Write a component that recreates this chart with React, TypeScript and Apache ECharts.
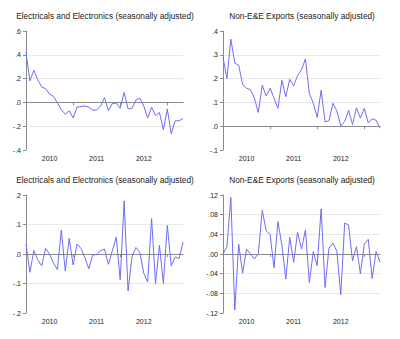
import React, { useEffect, useRef } from "react";
import * as echarts from "echarts";

const months = [
  "2010M01", "2010M02", "2010M03", "2010M04", "2010M05", "2010M06", "2010M07", "2010M08", "2010M09", "2010M10", "2010M11", "2010M12",
  "2011M01", "2011M02", "2011M03", "2011M04", "2011M05", "2011M06", "2011M07", "2011M08", "2011M09", "2011M10", "2011M11", "2011M12",
  "2012M01", "2012M02", "2012M03", "2012M04", "2012M05", "2012M06", "2012M07", "2012M08", "2012M09", "2012M10", "2012M11", "2012M12",
  "2013M01", "2013M02", "2013M03", "2013M04", "2013M05",
];

const eeLevel = [
  0.42, 0.18, 0.27, 0.19, 0.13, 0.115, 0.07, 0.05, -0.005, -0.06, -0.1, -0.07,
  -0.13, -0.04, -0.035, -0.03, -0.04, -0.065, -0.065, -0.03, 0.04, -0.07, -0.01, -0.005,
  -0.05, 0.085, -0.055, -0.05, 0.02, 0.035, -0.03, -0.13, -0.04, -0.11, -0.085, -0.23,
  -0.055, -0.265, -0.155, -0.155, -0.135,
];

const nonEeLevel = [
  0.29, 0.2, 0.366, 0.265, 0.256, 0.175, 0.16, 0.153, 0.118, 0.058, 0.172, 0.127,
  0.16, 0.118, 0.075, 0.193, 0.124, 0.197, 0.17, 0.213, 0.237, 0.283, 0.137, 0.097,
  0.037, 0.151, 0.018, 0.023, 0.096, 0.065, 0.001, 0.02, 0.066, 0.007, 0.077, 0.034,
  0.075, 0.014, 0.031, 0.025, -0.008,
];

const eeChange = [
  0.034, -0.062, 0.012, -0.02, -0.04, 0.019, -0.001, -0.03, -0.053, 0.081, -0.058, 0.053,
  -0.037, 0.034, 0.019, -0.012, -0.05, -0.003, -0.002, 0.011, 0.017, -0.035, 0.011, 0.057,
  -0.087, 0.18, -0.125, -0.01, 0.022, 0.005, -0.065, -0.095, 0.12, -0.1, 0.03, -0.1,
  0.097, -0.04, -0.01, -0.015, 0.04,
];

const nonEeChange = [
  0.0, 0.015, 0.115, -0.114, 0.02, -0.039, 0.01, 0.0, -0.01, 0.001, 0.089, 0.047,
  0.04, -0.028, 0.066, 0.018, -0.051, 0.034, -0.017, 0.044, 0.01, 0.049, -0.058, 0.005,
  -0.024, 0.092, -0.068, 0.012, 0.022, 0.006, -0.083, 0.063, 0.059, -0.014, 0.015, -0.04,
  0.02, 0.03, -0.05, 0.005, -0.016,
];

const titles = [
  "Electricals and Electronics (seasonally adjusted)",
  "Non-E&E Exports (seasonally adjusted)",
  "Electricals and Electronics (seasonally adjusted)",
  "Non-E&E Exports (seasonally adjusted)",
];

const panels = [
  { data: eeLevel, min: -0.4, max: 0.6, interval: 0.2, decimals: 1 },
  { data: nonEeLevel, min: -0.1, max: 0.4, interval: 0.1, decimals: 1 },
  { data: eeChange, min: -0.2, max: 0.2, interval: 0.1, decimals: 1 },
  { data: nonEeChange, min: -0.12, max: 0.12, interval: 0.04, decimals: 2 },
];

const grids = [
  { left: 26, top: 31, width: 157, height: 119 },
  { left: 223, top: 31, width: 157, height: 119 },
  { left: 26, top: 195, width: 157, height: 118 },
  { left: 223, top: 195, width: 157, height: 118 },
];

const titlePos = [
  { x: 105, y: 16 },
  { x: 302, y: 16 },
  { x: 105, y: 180 },
  { x: 302, y: 180 },
];

const FONT = '"Liberation Sans", Arial, sans-serif';
const AXIS = "#8a8a8a";
const GRID = "#e8e8e8";
const TRANSP = "rgba(0,0,0,0)";
const LINE = "#6e6ef5";

function fmt(v: number, d: number) {
  const s = Math.abs(v).toFixed(d).replace(/^0/, "");
  return (v < -1e-9 ? "-" : "") + s;
}

export default function App() {
  const ref = useRef<HTMLDivElement>(null);
  useEffect(() => {
    if (!ref.current) return;
    const chart = echarts.init(ref.current, undefined, { renderer: "svg" });
    const xAxis = panels.map((_, i) => ({
      type: "category",
      gridIndex: i,
      data: months,
      boundaryGap: false,
      axisLine: { show: true, lineStyle: { color: AXIS, width: 1 } },
      axisTick: {
        show: true,
        length: 3,
        interval: (idx: number) => idx % 12 === 0,
        lineStyle: { color: AXIS },
      },
      axisLabel: {
        show: true,
        interval: (idx: number) => idx % 12 === 6 && idx < 36,
        formatter: (v: string) => v.slice(0, 4),
        color: "#222",
        fontSize: 7,
        fontFamily: FONT,
        margin: 5,
      },
      splitLine: { show: false },
    }));
    const yAxis = panels.map((p, i) => {
      const n = Math.round((p.max - p.min) / p.interval) + 1;
      const colors: string[] = [];
      for (let k = 0; k < n; k++) {
        const v = p.min + k * p.interval;
        if (k === 0 || k === n - 1) colors.push(TRANSP);
        else if (Math.abs(v) < 1e-9) colors.push(AXIS);
        else colors.push(GRID);
      }
      return {
        type: "value",
        gridIndex: i,
        min: p.min,
        max: p.max,
        interval: p.interval,
        axisLine: { show: true, lineStyle: { color: AXIS, width: 1 } },
        axisTick: { show: true, length: 3, lineStyle: { color: AXIS } },
        axisLabel: {
          formatter: (v: number) => fmt(v, p.decimals),
          color: "#222",
          fontSize: 7,
          fontFamily: FONT,
          margin: 5,
        },
        splitLine: { show: true, lineStyle: { color: colors, width: 1 } },
      };
    });
    const series = panels.map((p, i) => ({
      type: "line",
      xAxisIndex: i,
      yAxisIndex: i,
      data: p.data,
      symbol: "none",
      lineStyle: { color: LINE, width: 1 },
      itemStyle: { color: LINE },
      z: 5,
    }));
    const graphic = titles.map((t, i) => ({
      type: "text",
      x: titlePos[i].x,
      y: titlePos[i].y,
      style: {
        text: t,
        fill: "#222",
        fontSize: 8.3,
        fontFamily: FONT,
        textAlign: "center",
        textVerticalAlign: "middle",
        align: "center",
        verticalAlign: "middle",
      },
    }));
    chart.setOption({
      animation: false,
      backgroundColor: "#ffffff",
      grid: grids,
      xAxis,
      yAxis,
      series,
      graphic,
    } as any);
    return () => chart.dispose();
  }, []);
  return (
    <div
      ref={ref}
      style={{ position: "fixed", left: 0, top: 0, width: 400, height: 339, background: "#fff" }}
    />
  );
}
